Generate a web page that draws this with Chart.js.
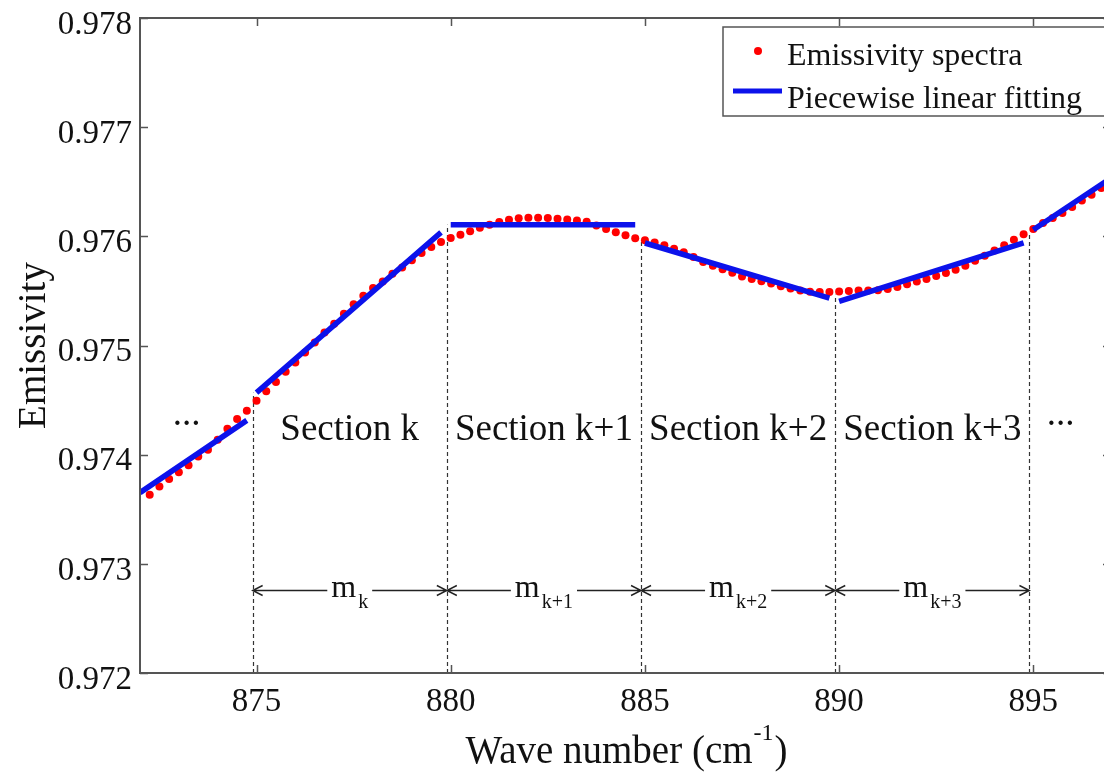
<!DOCTYPE html>
<html>
<head>
<meta charset="utf-8">
<title>Emissivity spectra and piecewise linear fitting</title>
<script src="https://cdn.jsdelivr.net/npm/chart.js@4.4.1/dist/chart.umd.min.js"></script>
<style>
  html, body { margin: 0; padding: 0; background: #ffffff; overflow: hidden; }
  #wrap { position: relative; width: 1104px; height: 775px; overflow: hidden; }
  canvas { display: block; }
</style>
</head>
<body>
<div id="wrap"><canvas id="chart" width="1120" height="775"></canvas></div>
<script>
// Sampled emissivity spectrum (wave number in cm^-1)
const waveNumber = [
  872.25, 872.5, 872.75, 873.0, 873.25, 873.5, 873.75, 874.0, 874.25, 874.5,
  874.75, 875.0, 875.25, 875.5, 875.75, 876.0, 876.25, 876.5, 876.75, 877.0,
  877.25, 877.5, 877.75, 878.0, 878.25, 878.5, 878.75, 879.0, 879.25, 879.5,
  879.75, 880.0, 880.25, 880.5, 880.75, 881.0, 881.25, 881.5, 881.75, 882.0,
  882.25, 882.5, 882.75, 883.0, 883.25, 883.5, 883.75, 884.0, 884.25, 884.5,
  884.75, 885.0, 885.25, 885.5, 885.75, 886.0, 886.25, 886.5, 886.75, 887.0,
  887.25, 887.5, 887.75, 888.0, 888.25, 888.5, 888.75, 889.0, 889.25, 889.5,
  889.75, 890.0, 890.25, 890.5, 890.75, 891.0, 891.25, 891.5, 891.75, 892.0,
  892.25, 892.5, 892.75, 893.0, 893.25, 893.5, 893.75, 894.0, 894.25, 894.5,
  894.75, 895.0, 895.25, 895.5, 895.75, 896.0, 896.25, 896.5, 896.75, 897.0
];
const emissivity = [
  0.973633, 0.973709, 0.973777, 0.973838, 0.973902, 0.973984, 0.974045, 0.974137, 0.974238, 0.974327,
  0.974403, 0.974494, 0.974580, 0.974666, 0.974760, 0.974845, 0.974937, 0.975028, 0.975120, 0.975200,
  0.975291, 0.975377, 0.975456, 0.975527, 0.975587, 0.975658, 0.975715, 0.975780, 0.975847, 0.975902,
  0.975948, 0.975984, 0.976015, 0.976047, 0.976079, 0.976107, 0.976131, 0.976152, 0.976166, 0.976171,
  0.976171, 0.976168, 0.976162, 0.976155, 0.976146, 0.976134, 0.976099, 0.976068, 0.976037, 0.976010,
  0.975982, 0.975964, 0.975944, 0.975918, 0.975887, 0.975855, 0.975811, 0.975765, 0.975731, 0.975699,
  0.975667, 0.975632, 0.975609, 0.975588, 0.975568, 0.975543, 0.975522, 0.975504, 0.975493, 0.975491,
  0.975490, 0.975495, 0.975500, 0.975504, 0.975504, 0.975507, 0.975518, 0.975536, 0.975562, 0.975587,
  0.975609, 0.975637, 0.975664, 0.975694, 0.975731, 0.975777, 0.975823, 0.975871, 0.975919, 0.975969,
  0.976020, 0.976067, 0.976122, 0.976168, 0.976214, 0.976269, 0.976329, 0.976381, 0.976443, 0.976500
];

// Piecewise linear fit: one straight segment per section
const fitStartX = [872.0, 875.0, 880.0, 885.0, 890.0, 895.0];
const fitEndX   = [874.75, 879.75, 884.75, 889.75, 894.75, 897.0];
const fitStartY = [0.973652, 0.974568, 0.976107, 0.975939, 0.975404, 0.976061];
const fitEndY   = [0.974314, 0.976036, 0.976107, 0.975435, 0.975939, 0.976535];

// Section boundaries (dashed markers) and the level each marker reaches
const boundaryX   = [874.9, 879.9, 884.9, 889.9, 894.9];
const boundaryTop = [0.974568, 0.976107, 0.975954, 0.975465, 0.976016];

const sectionNames   = ['Section k', 'Section k+1', 'Section k+2', 'Section k+3'];
const spanSubscripts = ['k', 'k+1', 'k+2', 'k+3'];

const xTickValues = [875, 880, 885, 890, 895];
const yTickValues = [0.972, 0.973, 0.974, 0.975, 0.976, 0.977, 0.978];

const SERIF = '"Liberation Serif", "Times New Roman", serif';

// Build the point lists for Chart.js
const spectrumPoints = waveNumber.map((x, i) => ({ x: x, y: emissivity[i] }));
const fitPoints = [];
fitStartX.forEach((x0, i) => {
  fitPoints.push({ x: x0, y: fitStartY[i] });
  fitPoints.push({ x: fitEndX[i], y: fitEndY[i] });
  if (i < fitStartX.length - 1) fitPoints.push({ x: (fitEndX[i] + fitStartX[i + 1]) / 2, y: null });
});

// Annotations, frame, titles and legend drawn on top of the library's scales
const annotate = {
  id: 'annotate',
  beforeDatasetsDraw(chart, args, opts) {
    const ctx = chart.ctx;
    const xs = chart.scales.x, ys = chart.scales.y;
    ctx.save();

    // dashed section boundaries
    ctx.strokeStyle = '#333';
    ctx.lineWidth = 1.2;
    ctx.setLineDash([4, 3]);
    boundaryX.forEach((b, i) => {
      const px = Math.round(xs.getPixelForValue(b)) + 0.5;
      ctx.beginPath();
      ctx.moveTo(px, ys.getPixelForValue(ys.min));
      ctx.lineTo(px, ys.getPixelForValue(boundaryTop[i]));
      ctx.stroke();
    });
    ctx.setLineDash([]);

    // section names
    ctx.fillStyle = '#111';
    ctx.font = '37px ' + SERIF;
    ctx.textAlign = 'center';
    ctx.textBaseline = 'alphabetic';
    sectionNames.forEach((name, i) => {
      const cx = xs.getPixelForValue((boundaryX[i] + boundaryX[i + 1]) / 2);
      ctx.fillText(name, cx, ys.getPixelForValue(opts.sectionLabelLevel));
    });
    opts.ellipsisX.forEach(x => {
      ctx.fillText('...', xs.getPixelForValue(x), ys.getPixelForValue(opts.ellipsisLevel));
    });

    // span arrows with m labels
    const ay = Math.round(ys.getPixelForValue(opts.arrowLevel)) + 0.5;
    ctx.strokeStyle = '#222';
    ctx.lineWidth = 1.4;
    spanSubscripts.forEach((sub, i) => {
      const x0 = xs.getPixelForValue(boundaryX[i]);
      const x1 = xs.getPixelForValue(boundaryX[i + 1]);
      ctx.font = '32px ' + SERIF;
      const wm = ctx.measureText('m').width;
      ctx.font = '20px ' + SERIF;
      const ws = ctx.measureText(sub).width;
      const w = wm + 2 + ws;
      const cx = (x0 + x1) / 2;
      const lx = cx - w / 2;
      ctx.beginPath();
      ctx.moveTo(x0, ay); ctx.lineTo(lx - 4, ay);
      ctx.moveTo(lx + w + 4, ay); ctx.lineTo(x1, ay);
      // arrow heads
      ctx.moveTo(x0 + 10, ay - 5); ctx.lineTo(x0, ay); ctx.lineTo(x0 + 10, ay + 5);
      ctx.moveTo(x1 - 10, ay - 5); ctx.lineTo(x1, ay); ctx.lineTo(x1 - 10, ay + 5);
      ctx.stroke();
      ctx.textAlign = 'left';
      ctx.font = '32px ' + SERIF;
      ctx.fillText('m', lx, ay + 6);
      ctx.font = '20px ' + SERIF;
      ctx.fillText(sub, lx + wm + 2, ay + 17);
    });
    ctx.restore();
  },
  afterDraw(chart, args, opts) {
    const ctx = chart.ctx;
    const a = chart.chartArea;
    const xs = chart.scales.x, ys = chart.scales.y;
    ctx.save();

    // plot frame with inward ticks
    ctx.strokeStyle = '#555';
    ctx.lineWidth = 2;
    ctx.strokeRect(a.left, a.top, a.right - a.left, a.bottom - a.top);
    ctx.lineWidth = 1.5;
    ctx.beginPath();
    xTickValues.forEach(v => {
      const px = Math.round(xs.getPixelForValue(v)) + 0.5;
      ctx.moveTo(px, a.bottom); ctx.lineTo(px, a.bottom - 8);
      ctx.moveTo(px, a.top); ctx.lineTo(px, a.top + 8);
    });
    yTickValues.forEach(v => {
      const py = Math.round(ys.getPixelForValue(v)) + 0.5;
      ctx.moveTo(a.left, py); ctx.lineTo(a.left + 8, py);
      ctx.moveTo(a.right, py); ctx.lineTo(a.right - 8, py);
    });
    ctx.stroke();

    // axis titles
    ctx.fillStyle = '#111';
    ctx.font = '39px ' + SERIF;
    ctx.textAlign = 'center';
    ctx.textBaseline = 'alphabetic';
    ctx.save();
    ctx.translate(45, (a.top + a.bottom) / 2);
    ctx.rotate(-Math.PI / 2);
    ctx.fillText('Emissivity', 0, 0);
    ctx.restore();

    const mainA = 'Wave number (cm', sup = '-1', mainB = ')';
    ctx.font = '39px ' + SERIF;
    const wA = ctx.measureText(mainA).width, wB = ctx.measureText(mainB).width;
    ctx.font = '24px ' + SERIF;
    const wS = ctx.measureText(sup).width;
    let tx = (a.left + a.right) / 2 - (wA + wS + wB) / 2;
    const tb = 763;
    ctx.textAlign = 'left';
    ctx.font = '39px ' + SERIF;
    ctx.fillText(mainA, tx, tb);
    ctx.font = '24px ' + SERIF;
    ctx.fillText(sup, tx + wA + 1, tb - 23);
    ctx.font = '39px ' + SERIF;
    ctx.fillText(mainB, tx + wA + wS + 2, tb);

    // legend
    const L = opts.legend;
    ctx.fillStyle = '#ffffff';
    ctx.fillRect(L.left, L.top, L.right - L.left, L.bottom - L.top);
    ctx.strokeStyle = '#555';
    ctx.lineWidth = 1.5;
    ctx.strokeRect(L.left, L.top, L.right - L.left, L.bottom - L.top);
    const dsDots = chart.data.datasets[0], dsFit = chart.data.datasets[1];
    ctx.fillStyle = dsDots.backgroundColor;
    ctx.beginPath();
    ctx.arc(L.markerX, L.rowY[0] - 14, 4, 0, Math.PI * 2);
    ctx.fill();
    ctx.strokeStyle = dsFit.borderColor;
    ctx.lineWidth = 5;
    ctx.beginPath();
    ctx.moveTo(L.markerX - 25, L.rowY[1] - 17);
    ctx.lineTo(L.markerX + 24, L.rowY[1] - 17);
    ctx.stroke();
    ctx.fillStyle = '#111';
    ctx.font = '32px ' + SERIF;
    ctx.textAlign = 'left';
    ctx.fillText(dsDots.label, L.textX, L.rowY[0]);
    ctx.fillText(dsFit.label, L.textX, L.rowY[1]);
    ctx.restore();
  }
};

new Chart(document.getElementById('chart'), {
  type: 'scatter',
  data: {
    datasets: [
      {
        label: 'Emissivity spectra',
        data: spectrumPoints,
        backgroundColor: '#ff0000',
        borderColor: '#ff0000',
        pointRadius: 4,
        pointBorderWidth: 0,
        order: 1
      },
      {
        label: 'Piecewise linear fitting',
        data: fitPoints,
        showLine: true,
        spanGaps: false,
        borderColor: 'rgb(12, 18, 235)',
        borderWidth: 5.5,
        borderCapStyle: 'butt',
        pointRadius: 0,
        order: 0
      }
    ]
  },
  options: {
    responsive: false,
    animation: false,
    devicePixelRatio: 1,
    layout: { padding: { left: 0, right: 9, top: 18, bottom: 0 } },
    plugins: {
      legend: { display: false },
      tooltip: { enabled: false },
      annotate: {
        sectionLabelLevel: 0.97413,
        ellipsisLevel: 0.974275,
        ellipsisX: [873.2, 895.7],
        arrowLevel: 0.97276,
        legend: { left: 723, top: 27, right: 1112, bottom: 116, markerX: 758, textX: 787, rowY: [65, 108] }
      }
    },
    scales: {
      x: {
        type: 'linear',
        min: 872,
        max: 897,
        grid: { display: false, drawTicks: false },
        border: { display: false },
        afterBuildTicks: s => { s.ticks = xTickValues.map(v => ({ value: v })); },
        afterFit: s => { s.height = 102; s.paddingLeft = 0; s.paddingRight = 0; },
        ticks: {
          font: { family: SERIF, size: 33 },
          color: '#111',
          padding: 10,
          maxRotation: 0,
          callback: v => String(v)
        }
      },
      y: {
        type: 'linear',
        min: 0.972,
        max: 0.978,
        grid: { display: false, drawTicks: false },
        border: { display: false },
        afterBuildTicks: s => { s.ticks = yTickValues.map(v => ({ value: v })); },
        afterFit: s => { s.width = 140; s.paddingTop = 0; s.paddingBottom = 0; },
        ticks: {
          font: { family: SERIF, size: 33 },
          color: '#111',
          padding: 8,
          labelOffset: 7,
          callback: v => Number(v).toFixed(3)
        }
      }
    }
  },
  plugins: [annotate]
});
</script>
</body>
</html>
